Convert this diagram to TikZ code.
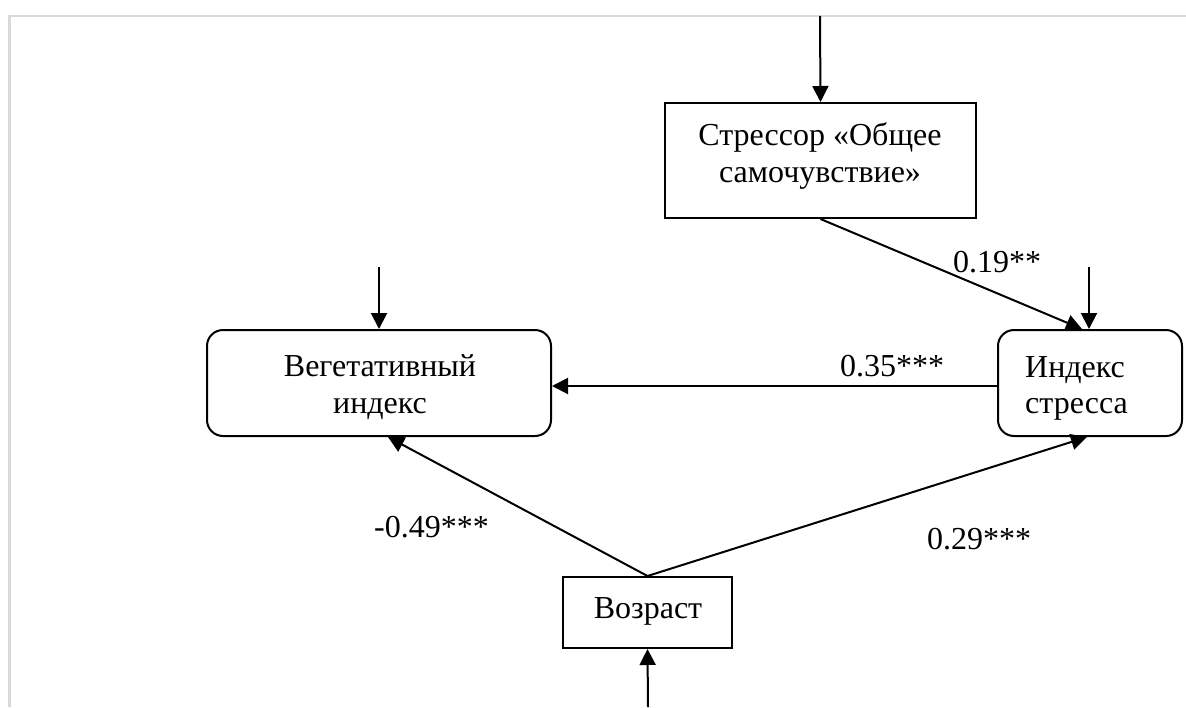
\documentclass[tikz,border=0pt]{standalone}
\usepackage{fontspec}
\setmainfont{Liberation Serif}
\usetikzlibrary{arrows.meta,calc}
\definecolor{framegray}{HTML}{D9D9D9}
\begin{document}
\begin{tikzpicture}[x=1pt,y=-1pt,
  txt/.style={inner sep=0pt, font=\fontsize{32}{37}\selectfont},
  sqbox/.style={draw, line width=2pt, inner sep=0pt},
  rbox/.style={draw, line width=2pt, inner sep=0pt, rounded corners=16pt},
  arr/.style={line width=2pt, -{Triangle[length=16pt,width=16pt]}},
  con/.style={line width=2pt}]
\useasboundingbox (0,0) rectangle (1186,707);
% frame
\draw[framegray, line width=2.5pt] (9.5,707) -- (9.5,16) -- (1186,16);

% boxes
\node[sqbox, minimum width=311pt, minimum height=115pt] (stressor) at (820.5,160.5) {};
\node[rbox, minimum width=344pt, minimum height=106pt] (veg) at (379,383) {};
\node[rbox, minimum width=184pt, minimum height=106pt] (index) at (1090,383) {};
\node[sqbox, minimum width=169pt, minimum height=71pt] (vozr) at (647.5,612.5) {};

% box texts
\node[txt, anchor=base] (stressorA) at (820,145) {Стрессор «Общее};
\node[txt, anchor=base] (stressorB) at (820,182) {самочувствие»};
\node[txt, anchor=base] (vegA) at (380,376) {Вегетативный};
\node[txt, anchor=base] (vegB) at (380,413) {индекс};
\node[txt, anchor=base west] (indexA) at (1025,377) {Индекс};
\node[txt, anchor=base west] (indexB) at (1025,413) {стресса};
\node[txt, anchor=base] (vozrA) at (648,618) {Возраст};

% coefficient labels
\node[txt, anchor=base west] (l19) at (953,272) {0.19**};
\node[txt, anchor=base west] (l35) at (840,376) {0.35***};
\node[txt, anchor=base west] (l49) at (374,537) {-0.49***};
\node[txt, anchor=base west] (l29) at (927,549) {0.29***};

% free ends
\coordinate (inStressor) at (820,16);
\coordinate (inVeg) at (379,267);
\coordinate (inIndex) at (1089,267);
\coordinate (inVozr) at (648,707);

% connectors
\draw[arr] (inStressor) -- (stressor.north);
\draw[arr] (inVeg) -- (veg.north);
\draw[arr] (inIndex) -- ($(index.north)+(-1,0)$);
\draw[arr] (inVozr) -- (vozr.south);
\draw[arr] (stressor.south) -- ($(index.north)+(-8,0)$);
\draw[arr] ($(index.west)+(0,3)$) -- ($(veg.east)+(0,3)$);
\draw[arr] (vozr.north) -- ($(veg.south)+(9,0)$);
\draw[arr] (vozr.north) -- ($(index.south)+(-3,0)$);
\end{tikzpicture}
\end{document}
